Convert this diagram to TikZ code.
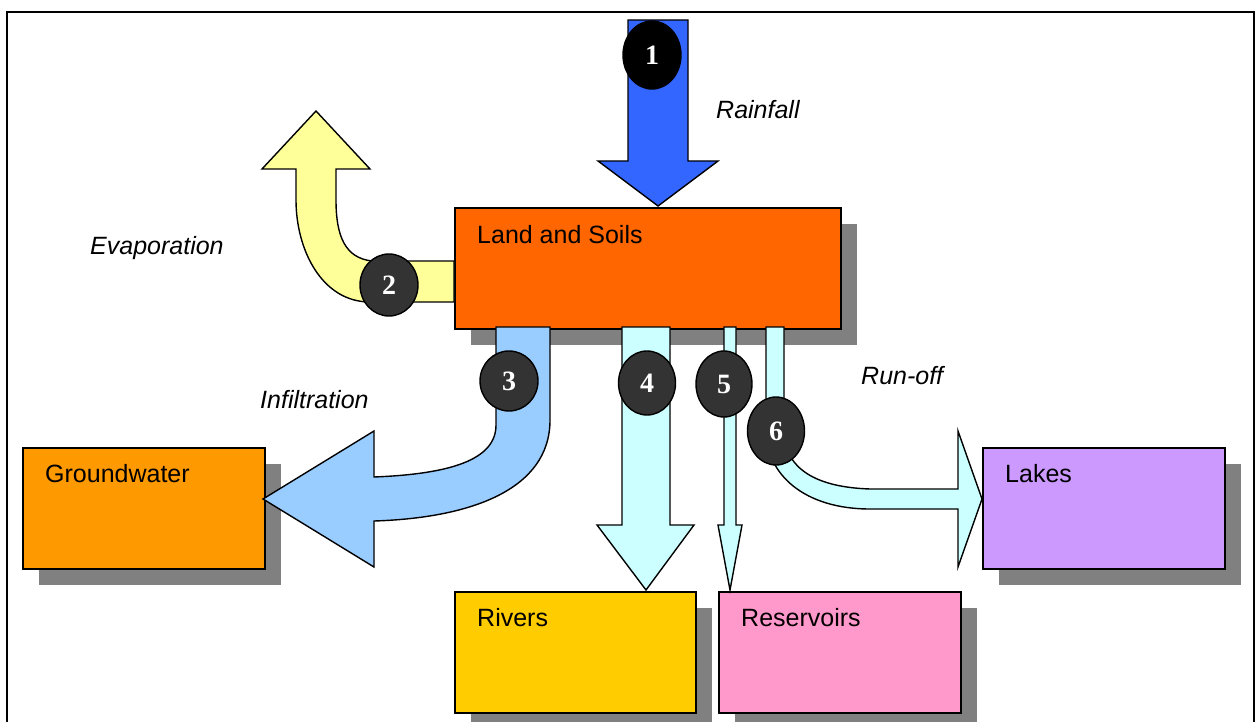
\documentclass[tikz,border=0pt]{standalone}
\usepackage{fontspec}
\setmainfont{Liberation Sans}
\newfontfamily\numfont{Liberation Serif}
\usetikzlibrary{shapes.geometric,shadows}

\definecolor{landc}{HTML}{FF6600}
\definecolor{groundc}{HTML}{FF9900}
\definecolor{riverc}{HTML}{FFCC00}
\definecolor{reservc}{HTML}{FF99CC}
\definecolor{lakec}{HTML}{CC99FF}
\definecolor{shadowc}{HTML}{808080}
\definecolor{rainc}{HTML}{3366FF}
\definecolor{evapc}{HTML}{FFFF99}
\definecolor{infilc}{HTML}{99CCFF}
\definecolor{runc}{HTML}{CCFFFF}
\definecolor{markc}{HTML}{333333}

\tikzset{
  store/.style={draw=black, line width=2pt, anchor=north west, inner sep=0pt,
    minimum width=242pt, minimum height=121pt,
    drop shadow={shadow xshift=16pt, shadow yshift=-16pt, fill=shadowc, opacity=1}},
  boxtext/.style={anchor=base west, inner sep=0pt, font=\fontsize{25}{30}\selectfont},
  flowtext/.style={anchor=base west, inner sep=0pt, font=\fontsize{25}{30}\selectfont\itshape},
  flow/.style={draw=black, line width=1.4pt, line join=miter},
  marker/.style={ellipse, draw=black, line width=1.4pt, fill=markc, inner sep=0pt,
    text=white, font=\fontsize{28}{30}\selectfont\numfont\bfseries},
}

\begin{document}
\begin{tikzpicture}[x=1pt, y=-1pt]
\useasboundingbox (0,0) rectangle (1255,722);

% outer frame
\draw[line width=2pt] (7,722) -- (7,12) -- (1254,12) -- (1254,722);

% stores
\node[store, fill=landc, minimum width=386pt] (land) at (454,207) {};
\node[store, fill=groundc] (ground) at (22,447) {};
\node[store, fill=riverc, minimum width=241pt] (rivers) at (454,591) {};
\node[store, fill=reservc] (reserv) at (718,591) {};
\node[store, fill=lakec] (lakes) at (982,447) {};

\node[boxtext] (landt) at (477,243) {Land and Soils};
\node[boxtext] (groundt) at (45,482) {Groundwater};
\node[boxtext] (lakest) at (1005,482) {Lakes};
\node[boxtext] (riverst) at (477,626) {Rivers};
\node[boxtext] (reservt) at (741,626) {Reservoirs};

% 1 rainfall
\draw[flow, fill=rainc] (628,20) -- (688,20) -- (688,161) -- (718,161) -- (658,206)
  -- (598,161) -- (628,161) -- cycle;

% 2 evaporation
\draw[flow, fill=evapc] (454,261) -- (372,261) .. controls (345,258) and (336,236) .. (336,200)
  -- (336,169) -- (370,169) -- (316,111) -- (262,169) -- (296,169) -- (296,200)
  .. controls (296,250) and (322,302) .. (370,302) -- (454,302) -- cycle;

% 3 infiltration
\draw[flow, fill=infilc] (496,327) -- (550,327) -- (550,420)
  .. controls (550,490) and (470,518) .. (374,521) -- (374,567) -- (263,499)
  -- (374,431) -- (374,477) .. controls (450,474) and (496,460) .. (496,425) -- cycle;

% 4 and 5 to rivers and reservoirs
\draw[flow, fill=runc] (622,327) -- (670,327) -- (670,525) -- (694,525) -- (646,590)
  -- (597,525) -- (622,525) -- cycle;
\draw[flow, fill=runc] (724,327) -- (736,327) -- (736,525) -- (742,525) -- (730,590)
  -- (718,525) -- (724,525) -- cycle;

% 6 run-off to lakes
\draw[flow, fill=runc] (766,327) -- (784,327) -- (784,430)
  .. controls (784,465) and (810,487) .. (870,489) -- (958,489) -- (958,431)
  -- (982,499) -- (958,567) -- (958,509) -- (870,509)
  .. controls (805,509) and (766,475) .. (766,430) -- cycle;

% flow labels
\node[flowtext] (rainl) at (716,119) {Rainfall};
\node[flowtext] (evapl) at (90,254) {Evaporation};
\node[flowtext] (infill) at (260,408) {Infiltration};
\node[flowtext] (runl) at (861,384) {Run-off};

% numbered markers
\node[marker, fill=black, minimum width=58pt, minimum height=68pt] (c1) at (652,55) {1};
\node[marker, minimum width=58pt, minimum height=62pt] (c2) at (389,285) {2};
\node[marker, minimum width=58pt, minimum height=60pt] (c3) at (509,381) {3};
\node[marker, minimum width=57pt, minimum height=64pt] (c4) at (647,383) {4};
\node[marker, minimum width=56pt, minimum height=66pt] (c5) at (724,384) {5};
\node[marker, minimum width=57pt, minimum height=68pt] (c6) at (776,431) {6};
\end{tikzpicture}
\end{document}
